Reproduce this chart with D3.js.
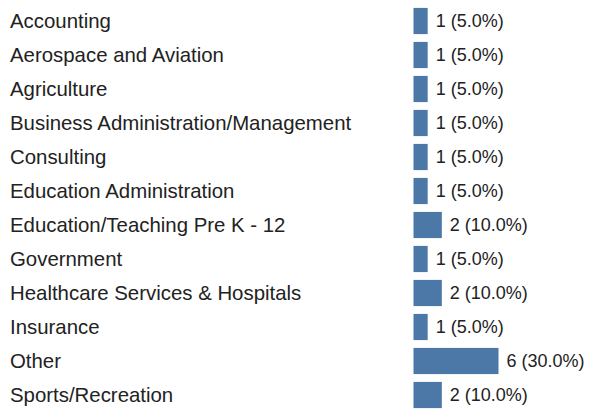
<!DOCTYPE html>
<html><head><meta charset="utf-8">
<script src="https://cdn.jsdelivr.net/npm/d3@7"></script>
<style>body{margin:0;background:#fff}svg{display:block}</style>
</head><body><svg id="c" width="589" height="409"></svg>
<script>
const categories = ["Accounting","Aerospace and Aviation","Agriculture","Business Administration/Management","Consulting","Education Administration","Education/Teaching Pre K - 12","Government","Healthcare Services & Hospitals","Insurance","Other","Sports/Recreation"];
const counts = [1,1,1,1,1,1,2,1,2,1,6,2];
const percents = [5.0,5.0,5.0,5.0,5.0,5.0,10.0,5.0,10.0,5.0,30.0,10.0];

const svg = d3.select("#c");
const x0 = 413.5;
const x = d3.scaleLinear().domain([0,6]).range([0,85]);
const y = d3.scaleBand().domain(categories).range([4, 412]).paddingInner(0.23).paddingOuter(0.115);
const font = "'Liberation Sans', Arial, sans-serif";

const g = svg.selectAll("g.row").data(categories).join("g").attr("class","row");
g.append("text").attr("x",10).attr("y",d=>y(d)+y.bandwidth()/2).attr("dy","0.35em")
  .attr("font-family",font).attr("font-size",20.4).attr("fill","#222").text(d=>d);
g.append("rect").attr("x",x0).attr("y",d=>y(d)).attr("width",(d,i)=>x(counts[i])).attr("height",y.bandwidth()).attr("fill","#4c78a8");
g.append("text").attr("x",(d,i)=>x0+x(counts[i])+8).attr("y",d=>y(d)+y.bandwidth()/2).attr("dy","0.35em")
  .attr("font-family",font).attr("font-size",18).attr("fill","#222").text((d,i)=>counts[i]+" ("+percents[i].toFixed(1)+"%)");
</script></body></html>
